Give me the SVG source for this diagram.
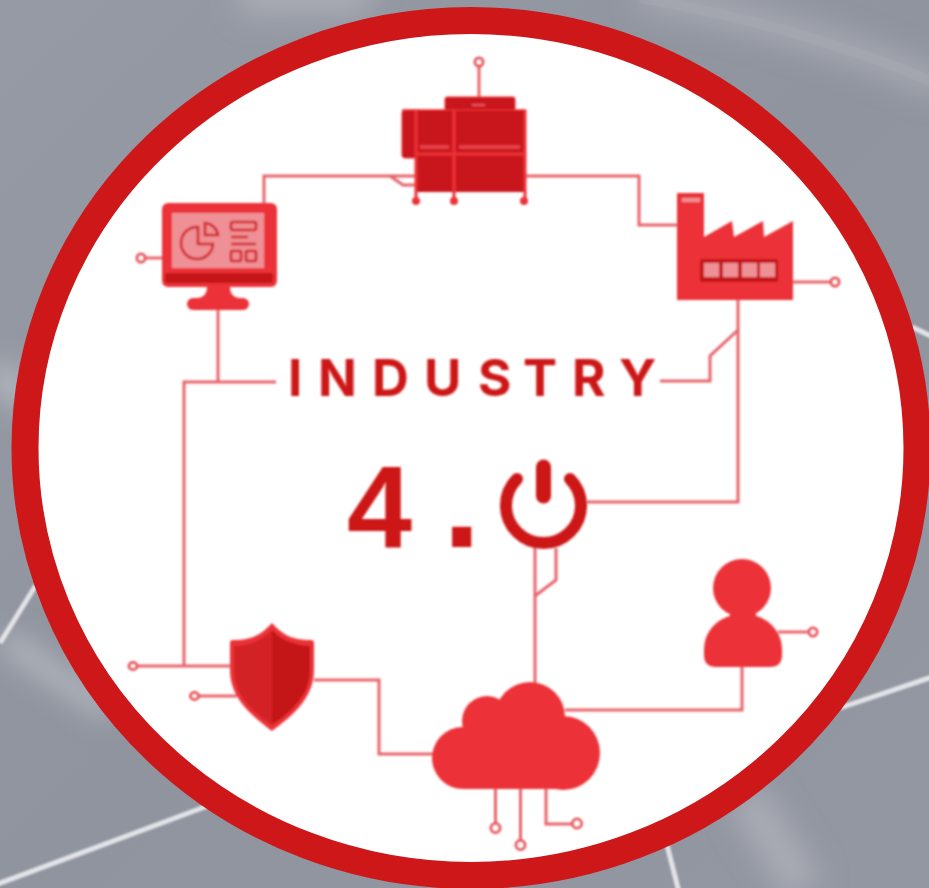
<svg xmlns="http://www.w3.org/2000/svg" width="929" height="888" viewBox="0 0 929 888">
<defs>
<filter id="b1" x="-5%" y="-5%" width="110%" height="110%"><feGaussianBlur stdDeviation="0.85"/></filter>
<filter id="b6" x="-30%" y="-30%" width="160%" height="160%"><feGaussianBlur stdDeviation="7"/></filter>
<filter id="b14" filterUnits="userSpaceOnUse" x="0" y="0" width="929" height="888"><feGaussianBlur stdDeviation="14"/></filter>
<filter id="b2" filterUnits="userSpaceOnUse" x="0" y="0" width="929" height="888"><feGaussianBlur stdDeviation="0.9"/></filter>
<linearGradient id="bg" x1="0" y1="0" x2="1" y2="1"><stop offset="0" stop-color="#969aa4"/><stop offset="0.5" stop-color="#90949e"/><stop offset="1" stop-color="#9397a1"/></linearGradient>
</defs>
<style>
.c{fill:none;stroke:#e8636a;stroke-width:3}
.p{fill:#fff;stroke:#e8555c;stroke-width:3}
.i{fill:#ec3337}
.d{fill:#c41414}
.m{fill:none;stroke:#d32027;stroke-width:2.6}
.l{fill:#ee9095}
.w{fill:none;stroke:#e2e4e8;stroke-width:5;filter:url(#b2)}
.g{fill:none;stroke:#a9acb5;filter:url(#b14)}
text{font-family:"Inter","Liberation Sans",sans-serif;fill:#cd1719}
.n{font-family:"Liberation Sans",Arial,sans-serif;font-weight:700}
</style>
<g id="background">
<rect width="929" height="888" fill="url(#bg)"/>
<path class="g" style="filter:none;stroke:#a4a7b0;opacity:.45" d="M640 -2C740 15 850 45 940 85" stroke-width="10"/>
<path class="g" d="M640 -5C740 15 850 45 940 85" stroke-width="24"/>
<path class="g" style="stroke:#c0c3cb" d="M5 640L110 712" stroke-width="16"/>
<path class="g" style="stroke:#c0c3cb" d="M0 365L20 405" stroke-width="20"/>
<path class="g" d="M745 795L805 890" stroke-width="40"/>
<path class="g" d="M240 -10L370 -10" stroke-width="50"/>
<path class="w" d="M-5 885L210 805"/>
<path class="w" d="M0 643L36 585"/>
<path class="w" d="M840 708L935 676"/>
<path class="w" d="M667 845L679 892"/>
<path class="w" d="M912 327L935 338"/>
</g>
<ellipse id="ring" cx="471" cy="448" rx="446" ry="427.500" fill="#fff" stroke="#cd1719" stroke-width="27"/>
<g filter="url(#b1)">
<g id="connectors">
<path class="c" d="M479 66V97"/>
<path class="c" d="M264 203V176H416M390 176L403 185H416"/>
<path class="c" d="M526 176H639V225H677"/>
<path class="c" d="M793 282H831"/>
<path class="c" d="M738 300V502H587M738 330L710 356V381H660"/>
<path class="c" d="M162 258H145"/>
<path class="c" d="M218 310V381M276 382H184V666"/>
<path class="c" d="M137 666H230M198 696H237"/>
<path class="c" d="M314 680H379V754H433"/>
<path class="c" d="M535 548V684M556 548V580L535 596"/>
<path class="c" d="M565 710H742V666"/>
<path class="c" d="M778 632H809"/>
<path class="c" d="M495.500 789V824M520.500 789V841M546 789V824H573"/>
</g>
<g id="machine">
<circle class="p" cx="479" cy="62" r="4"/>
<rect x="445" y="97" width="70" height="14" rx="2" fill="#c8161a" stroke="#ec3337" stroke-width="1"/>
<rect x="402" y="110" width="20" height="48" rx="3" fill="#c8161a" stroke="#ec3337" stroke-width="1"/>
<rect x="415" y="110" width="111" height="82" rx="2" fill="#c8161a"/>
<path fill="none" stroke="#ec3337" stroke-width="3" d="M416 110V201M454 110V201M525 110V201M416 154H526"/>
<path fill="none" stroke="#ec3337" stroke-width="1.500" d="M402 110H526"/>
<path fill="none" stroke="#e8454c" stroke-width="3.500" d="M420 147H449M459 147H520"/>
<path fill="none" stroke="#e8555c" stroke-width="2" d="M472 105H485"/>
<circle class="i" cx="416" cy="201" r="4"/><circle class="i" cx="454" cy="201" r="4"/><circle class="i" cx="524" cy="201" r="4"/>
</g>
<g id="factory">
<path class="i" d="M677 193H704V237L732 221L734 237L763 221L764 237L793 221V300H677Z"/>
<rect class="d" x="700" y="259" width="78" height="23" rx="2"/>
<rect class="l" x="704" y="263" width="15" height="14"/><rect class="l" x="723" y="263" width="15" height="14"/><rect class="l" x="742" y="263" width="15" height="14"/><rect class="l" x="760" y="263" width="15" height="14"/>
<rect class="l" x="682" y="198" width="18" height="4"/>
<circle class="p" cx="835" cy="282" r="4"/>
</g>
<g id="monitor">
<rect class="i" x="162" y="203" width="115" height="84" rx="6"/>
<rect class="l" x="172" y="213" width="92" height="55"/>
<rect class="d" x="165" y="273" width="108" height="10" rx="2"/>
<path class="i" d="M207 287H230C230 294 234 298 240 298H197C203 298 207 294 207 287Z"/>
<rect class="i" x="187" y="298" width="62" height="12" rx="6"/>
<path class="m" d="M198 227A16 16 0 1 0 213 244H198Z"/>
<path class="m" d="M205 223A14 14 0 0 1 218 235H205Z"/>
<rect class="m" x="231" y="222" width="25" height="8" rx="2"/>
<path class="m" d="M231 237H248M231 244H256"/>
<rect class="m" x="231" y="251" width="10" height="10" rx="1"/>
<rect class="m" x="246" y="251" width="10" height="10" rx="1"/>
<circle class="p" cx="141" cy="258" r="4"/>
</g>
<g id="shield">
<path class="i" d="M272 623C262 634 253 640 233 640Q230 640 230 643V670C230 700 255 718 272 731C289 718 314 700 314 670V643Q314 640 311 640C291 640 282 634 272 623Z"/>
<path fill="#d32027" d="M272 630C263 639 253 645 234 646V670C234 697 256 714 272 725Z"/>
<path class="d" d="M272 630C281 639 291 645 310 646V670C310 697 288 714 272 725Z"/>
<ellipse class="p" cx="133" cy="666" rx="4" ry="3.500"/>
<ellipse class="p" cx="194.500" cy="696" rx="4" ry="3.500"/>
</g>
<g id="cloud">
<circle class="i" cx="463" cy="758" r="31"/>
<circle class="i" cx="487" cy="721" r="25"/>
<circle class="i" cx="530" cy="717" r="35"/>
<circle class="i" cx="563" cy="753" r="37"/>
<rect class="i" x="463" y="720" width="100" height="69"/>
<circle class="p" cx="495.500" cy="828" r="4.500"/>
<circle class="p" cx="520.500" cy="845" r="4.500"/>
<circle class="p" cx="577" cy="823.500" r="4.500"/>
</g>
<g id="person">
<circle class="i" cx="742" cy="588" r="29"/>
<rect class="i" x="730" y="606" width="26" height="14"/>
<path class="i" d="M704 650C704 628 722 614 743 614C764 614 782 628 782 650V655Q782 667 770 667H716Q704 667 704 655Z"/>
<circle class="p" cx="813" cy="632" r="4"/>
</g>
<g id="title">
<text font-size="51" font-weight="700" y="396" x="288 318 372 424 478 523 572 619">INDUSTRY</text>
<text class="n" font-size="117" y="547" x="347">4</text>
<text class="n" font-size="135" y="547" x="443">.</text>
</g>
<g id="power">
<path fill="none" stroke="#cd1719" stroke-width="12" stroke-linecap="round" d="M517 479A37.500 37.500 0 1 0 570 479"/>
<path fill="none" stroke="#cd1719" stroke-width="15" stroke-linecap="round" d="M543.500 467V496"/>
</g>
</g>
</svg>
